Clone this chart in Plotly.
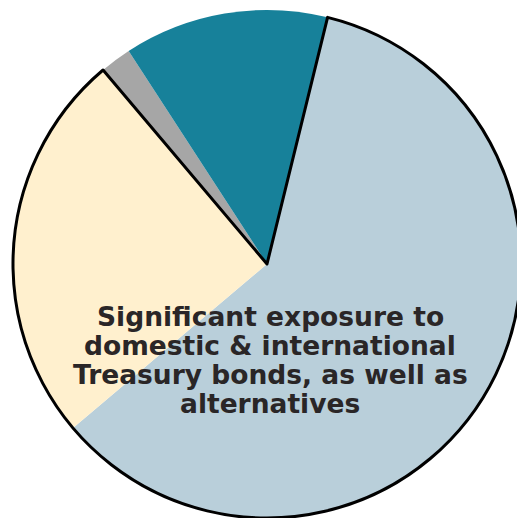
import plotly.graph_objects as go

labels = ["Treasury bonds", "International", "Cash", "Alternatives"]
values = [60, 25, 2, 13]
colors = ["#B9CFDA", "#FFF0CE", "#A6A6A6", "#17819A"]
outline_groups = ["Outlined", "Plain"]
outline_values = [values[0] + values[1], values[2] + values[3]]
caption_lines = [
    "Significant exposure to",
    "domestic & international",
    "Treasury bonds, as well as",
    "alternatives",
]

# figure is placed 8px in from the page corner (body margin), so keep it inside the window
W, H = 517, 510
dom = dict(x=[5 / W, 513 / W], y=[0.0, (H - 2) / H])

fig = go.Figure()
fig.add_trace(go.Pie(
    labels=labels, values=values, sort=False, direction="clockwise",
    rotation=13.8, marker=dict(colors=colors, line=dict(width=0)),
    textinfo="none", hoverinfo="skip", showlegend=False, domain=dom,
))
fig.add_trace(go.Pie(
    labels=outline_groups, values=outline_values, sort=False, direction="clockwise",
    rotation=13.8,
    marker=dict(colors=["rgba(0,0,0,0)", "rgba(0,0,0,0)"],
                line=dict(color=["#000000", "rgba(0,0,0,0)"], width=[3, 0])),
    textinfo="none", hoverinfo="skip", showlegend=False, domain=dom,
))
line_centers = [308, 337, 366, 395]
for txt, yc in zip(caption_lines, line_centers):
    fig.add_annotation(
        text=txt, x=262 / W, y=1 - yc / H, xref="paper", yref="paper",
        showarrow=False, align="center", xanchor="center", yanchor="middle",
        font=dict(family="DejaVu Sans", size=26.5, color="#2A2627", weight="bold"),
    )
fig.update_layout(
    width=W, height=H, margin=dict(l=0, r=0, t=0, b=0),
    paper_bgcolor="white", plot_bgcolor="white",
)
fig.write_html("out.html")
